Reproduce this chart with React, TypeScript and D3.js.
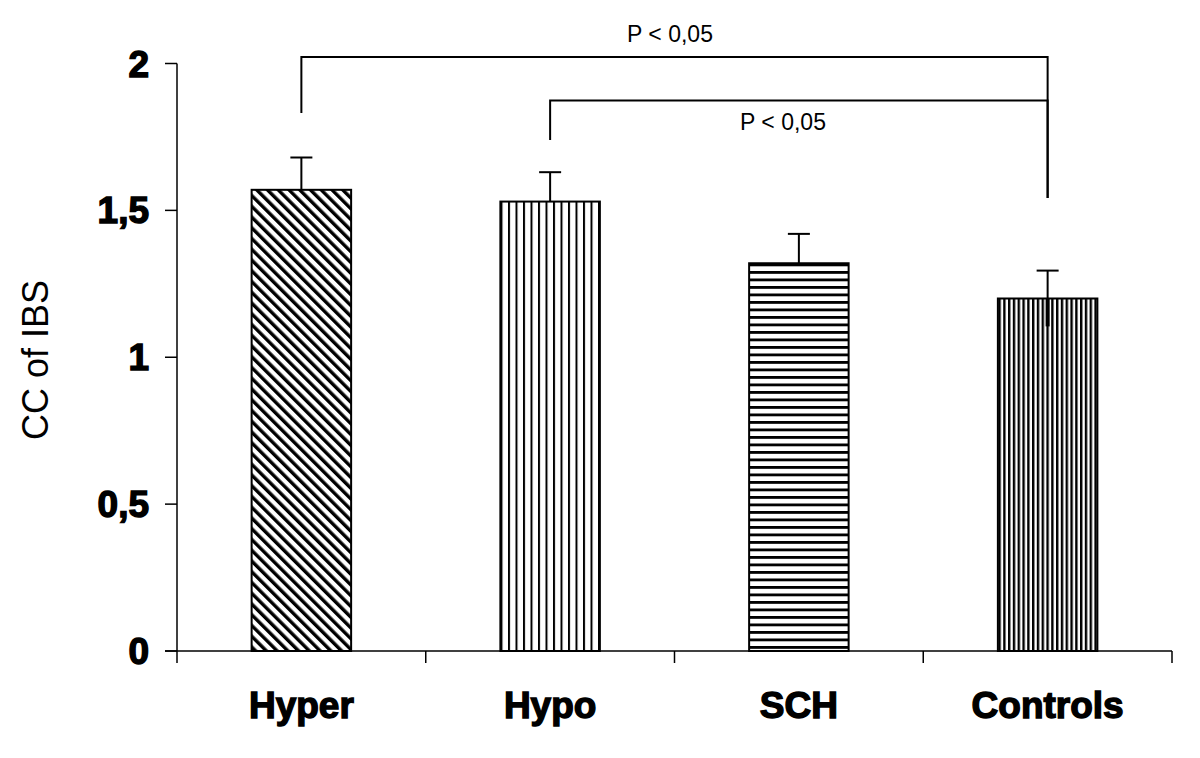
import { scaleBand, scaleLinear } from 'd3';

const categories = ['Hyper', 'Hypo', 'SCH', 'Controls'];
const means = [1.57, 1.53, 1.32, 1.2];
const errors = [0.11, 0.1, 0.1, 0.095];
const yTicks = [0, 0.5, 1, 1.5, 2];
const yTickLabels = ['0', '0,5', '1', '1,5', '2'];
// significance brackets: [from, to, label]
const comparisons: [string, string, string][] = [
  ['Hyper', 'Controls', 'P < 0,05'],
  ['Hypo', 'Controls', 'P < 0,05'],
];

const patternIds = ['diag', 'vert', 'horiz', 'vertDense'];

const App = () => {
  const width = 1200;
  const height = 758;
  const x = scaleBand().domain(categories).range([177, 1172]).padding(0);
  const y = scaleLinear().domain([0, 2]).range([651, 63.5]);
  const barW = x.bandwidth() * 0.4;
  const cx = (c: string) => (x(c) as number) + x.bandwidth() / 2;
  const capW = 22;

  const boldFont = { fontFamily: 'Liberation Sans, Arial, sans-serif', fontWeight: 'bold' as const, fontSize: 37 };

  // bracket geometry
  const bracketY = [57, 100.5];
  const leftDrop = [113, 140];
  const rightEnd = 198;

  return (
    <svg width={width} height={height} style={{ position: 'absolute', left: 0, top: 0, background: '#fff' }}>
      <defs>
        <pattern id="diag" width={7.6} height={7.6} patternUnits="userSpaceOnUse" patternTransform="rotate(-45)">
          <rect width={7.6} height={7.6} fill="#fff" />
          <rect x={0} width={3.4} height={7.6} fill="#000" />
        </pattern>
        <pattern id="vert" width={7.5} height={10} patternUnits="userSpaceOnUse" x={253}>
          <rect width={7.5} height={10} fill="#fff" />
          <rect x={0} width={2} height={10} fill="#000" />
        </pattern>
        <pattern id="horiz" width={10} height={7.5} patternUnits="userSpaceOnUse" y={1}>
          <rect width={10} height={7.5} fill="#fff" />
          <rect y={0} width={10} height={2.8} fill="#000" />
        </pattern>
        <pattern id="vertDense" width={4.8} height={10} patternUnits="userSpaceOnUse">
          <rect x={0} width={2.4} height={10} fill="#000" />
        </pattern>
      </defs>

      {/* lower whiskers (hidden behind most fills) */}
      {categories.map((c, i) => (
        <line key={'lw' + c} x1={cx(c)} x2={cx(c)} y1={y(means[i])} y2={y(means[i] - errors[i])}
          stroke="#000" strokeWidth={4} />
      ))}

      {/* bars */}
      {categories.map((c, i) => (
        <rect key={c} x={cx(c) - barW / 2} y={y(means[i])} width={barW} height={y(0) - y(means[i])}
          fill={`url(#${patternIds[i]})`} stroke="#000" strokeWidth={2} />
      ))}

      {/* upper whiskers */}
      {categories.map((c, i) => (
        <g key={'uw' + c} stroke="#000" strokeWidth={2}>
          <line x1={cx(c)} x2={cx(c)} y1={y(means[i])} y2={y(means[i] + errors[i])} />
          <line x1={cx(c) - capW / 2} x2={cx(c) + capW / 2} y1={y(means[i] + errors[i])} y2={y(means[i] + errors[i])} />
        </g>
      ))}

      {/* y axis */}
      <line x1={177} x2={177} y1={y(2)} y2={y(0)} stroke="#000" strokeWidth={1.5} />
      {yTicks.map((t, i) => (
        <g key={t}>
          <line x1={165} x2={177} y1={y(t)} y2={y(t)} stroke="#000" strokeWidth={1.5} />
          <text x={149} y={y(t) + 13} textAnchor="end" {...boldFont} stroke="#000" strokeWidth={1.4}>
            {yTickLabels[i]}
          </text>
        </g>
      ))}

      {/* x axis */}
      <line x1={165} x2={1172} y1={y(0)} y2={y(0)} stroke="#000" strokeWidth={1.5} />
      {[...categories.map((c) => x(c) as number), 1172].map((p) => (
        <line key={p} x1={p} x2={p} y1={y(0)} y2={y(0) + 12} stroke="#000" strokeWidth={1.5} />
      ))}
      {categories.map((c) => (
        <text key={'xl' + c} x={cx(c)} y={718} textAnchor="middle" {...boldFont} stroke="#000" strokeWidth={1.4}>
          {c}
        </text>
      ))}

      {/* y axis title */}
      <text transform="translate(48,360) rotate(-90)" textAnchor="middle"
        fontFamily="Liberation Sans, Arial, sans-serif" fontSize={36} fill="#000">
        CC of IBS
      </text>

      {/* significance brackets */}
      {comparisons.map(([a, b, label], i) => (
        <g key={'cmp' + i}>
          <path d={`M${cx(a)},${leftDrop[i]} V${bracketY[i]} H${cx(b)} V${rightEnd}`}
            fill="none" stroke="#000" strokeWidth={2} />
          <text x={i === 0 ? 670 : 783} y={i === 0 ? 42 : 130} textAnchor="middle"
            fontFamily="Liberation Sans, Arial, sans-serif" fontSize={23} fill="#000">
            {label}
          </text>
        </g>
      ))}
    </svg>
  );
};

export default App;
